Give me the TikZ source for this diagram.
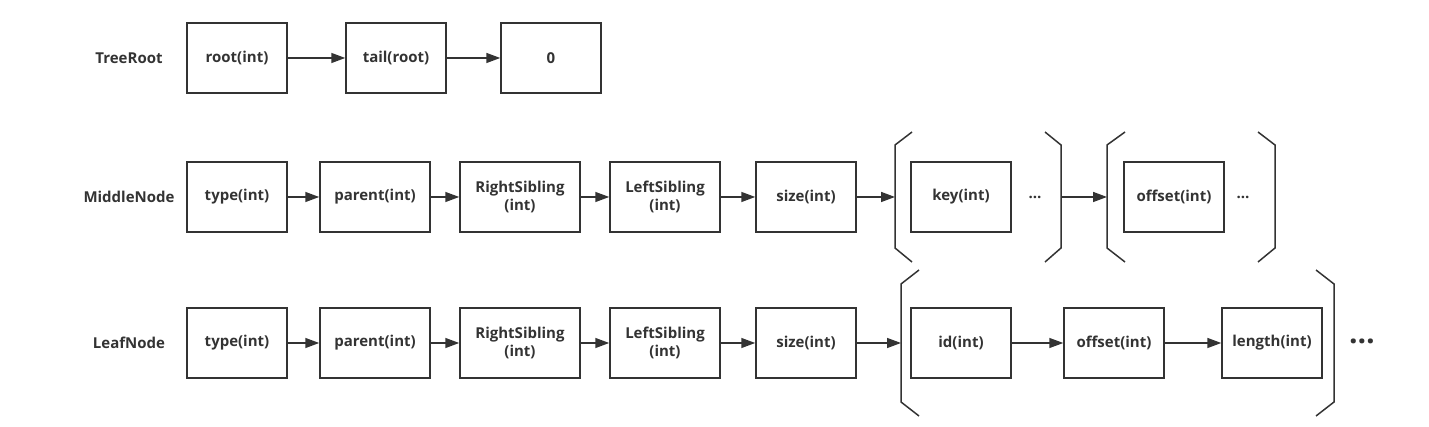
\documentclass[tikz,border=0pt]{standalone}
\usepackage{fontspec}
\setmainfont{Open Sans}
\usetikzlibrary{arrows.meta}
\definecolor{dc}{RGB}{51,51,51}
\begin{document}
\begin{tikzpicture}[x=1pt,y=-1pt,
 box/.style={draw=dc,line width=1.5pt,minimum height=70pt,inner sep=0pt,text=dc,align=center,font=\bfseries\fontsize{15}{18}\selectfont},
 lbl/.style={text=dc,inner sep=0pt,font=\bfseries\fontsize{15}{18}\selectfont},
 dots/.style={text=dc,inner sep=0pt,font=\bfseries\fontsize{15}{18}\selectfont},
 bigdots/.style={text=dc,inner sep=0pt,font=\bfseries\fontsize{30}{30}\selectfont},
 conn/.style={draw=dc,line width=1.5pt,-{Triangle[length=14pt,width=10pt]}},
 brk/.style={draw=dc,line width=1.5pt,line join=miter}]
\useasboundingbox (0,0) rectangle (1429,427);
% Row 1
\node[lbl] (lt) at (129,58) {TreeRoot};
\node[box,minimum width=100pt] (t1) at (237,58) {root(int)};
\node[box,minimum width=100pt] (t2) at (396,58) {tail(root)};
\node[box,minimum width=100pt] (t3) at (551,58) {0};
\draw[conn] (t1.east) -- (t2.west);
\draw[conn] (t2.east) -- (t3.west);
% Row 2
\node[lbl] (lm) at (129,197) {MiddleNode};
\node[box,minimum width=100pt] (m1) at (237,197) {type(int)};
\node[box,minimum width=110pt] (m2) at (375,197) {parent(int)};
\node[box,minimum width=120pt] (m3) at (520,197) {RightSibling\\(int)};
\node[box,minimum width=110pt] (m4) at (665,197) {LeftSibling\\(int)};
\node[box,minimum width=100pt] (m5) at (806,197) {size(int)};
\node[box,minimum width=100pt] (m6) at (961,197) {key(int)};
\node[box,minimum width=100pt] (m7) at (1174,197) {offset(int)};
\node[dots] (md1) at (1035,197) {…};
\node[dots] (md2) at (1243,197) {…};
\coordinate (mb1) at (895,197);
\coordinate (mb2) at (1061,197);
\coordinate (mb3) at (1107,197);
\coordinate (mb4) at (1275,197);
\draw[brk] (912,132) -- (895,145) -- (mb1) -- (895,248) -- (912,262);
\draw[brk] (1045,132) -- (1061,145) -- (mb2) -- (1061,248) -- (1045,262);
\draw[brk] (1125,132) -- (1107,145) -- (mb3) -- (1107,248) -- (1125,262);
\draw[brk] (1258,132) -- (1275,145) -- (mb4) -- (1275,248) -- (1258,262);
\draw[conn] (m1.east) -- (m2.west);
\draw[conn] (m2.east) -- (m3.west);
\draw[conn] (m3.east) -- (m4.west);
\draw[conn] (m4.east) -- (m5.west);
\draw[conn] (m5.east) -- (mb1);
\draw[conn] (mb2) -- (mb3);
% Row 3
\node[lbl] (ll) at (129,343) {LeafNode};
\node[box,minimum width=100pt] (l1) at (237,343) {type(int)};
\node[box,minimum width=110pt] (l2) at (375,343) {parent(int)};
\node[box,minimum width=120pt] (l3) at (520,343) {RightSibling\\(int)};
\node[box,minimum width=110pt] (l4) at (665,343) {LeftSibling\\(int)};
\node[box,minimum width=100pt] (l5) at (806,343) {size(int)};
\node[box,minimum width=100pt] (l6) at (961,343) {id(int)};
\node[box,minimum width=100pt] (l7) at (1114,343) {offset(int)};
\node[box,minimum width=100pt] (l8) at (1272,343) {length(int)};
\node[bigdots] (ld) at (1362,341) {…};
\coordinate (lb1) at (901,343);
\coordinate (lb2) at (1334,343);
\draw[brk] (919,270) -- (901,284) -- (lb1) -- (901,402) -- (919,416);
\draw[brk] (1316,270) -- (1334,284) -- (lb2) -- (1334,402) -- (1316,416);
\draw[conn] (l1.east) -- (l2.west);
\draw[conn] (l2.east) -- (l3.west);
\draw[conn] (l3.east) -- (l4.west);
\draw[conn] (l4.east) -- (l5.west);
\draw[conn] (l5.east) -- (lb1);
\draw[conn] (l6.east) -- (l7.west);
\draw[conn] (l7.east) -- (l8.west);
\end{tikzpicture}
\end{document}
